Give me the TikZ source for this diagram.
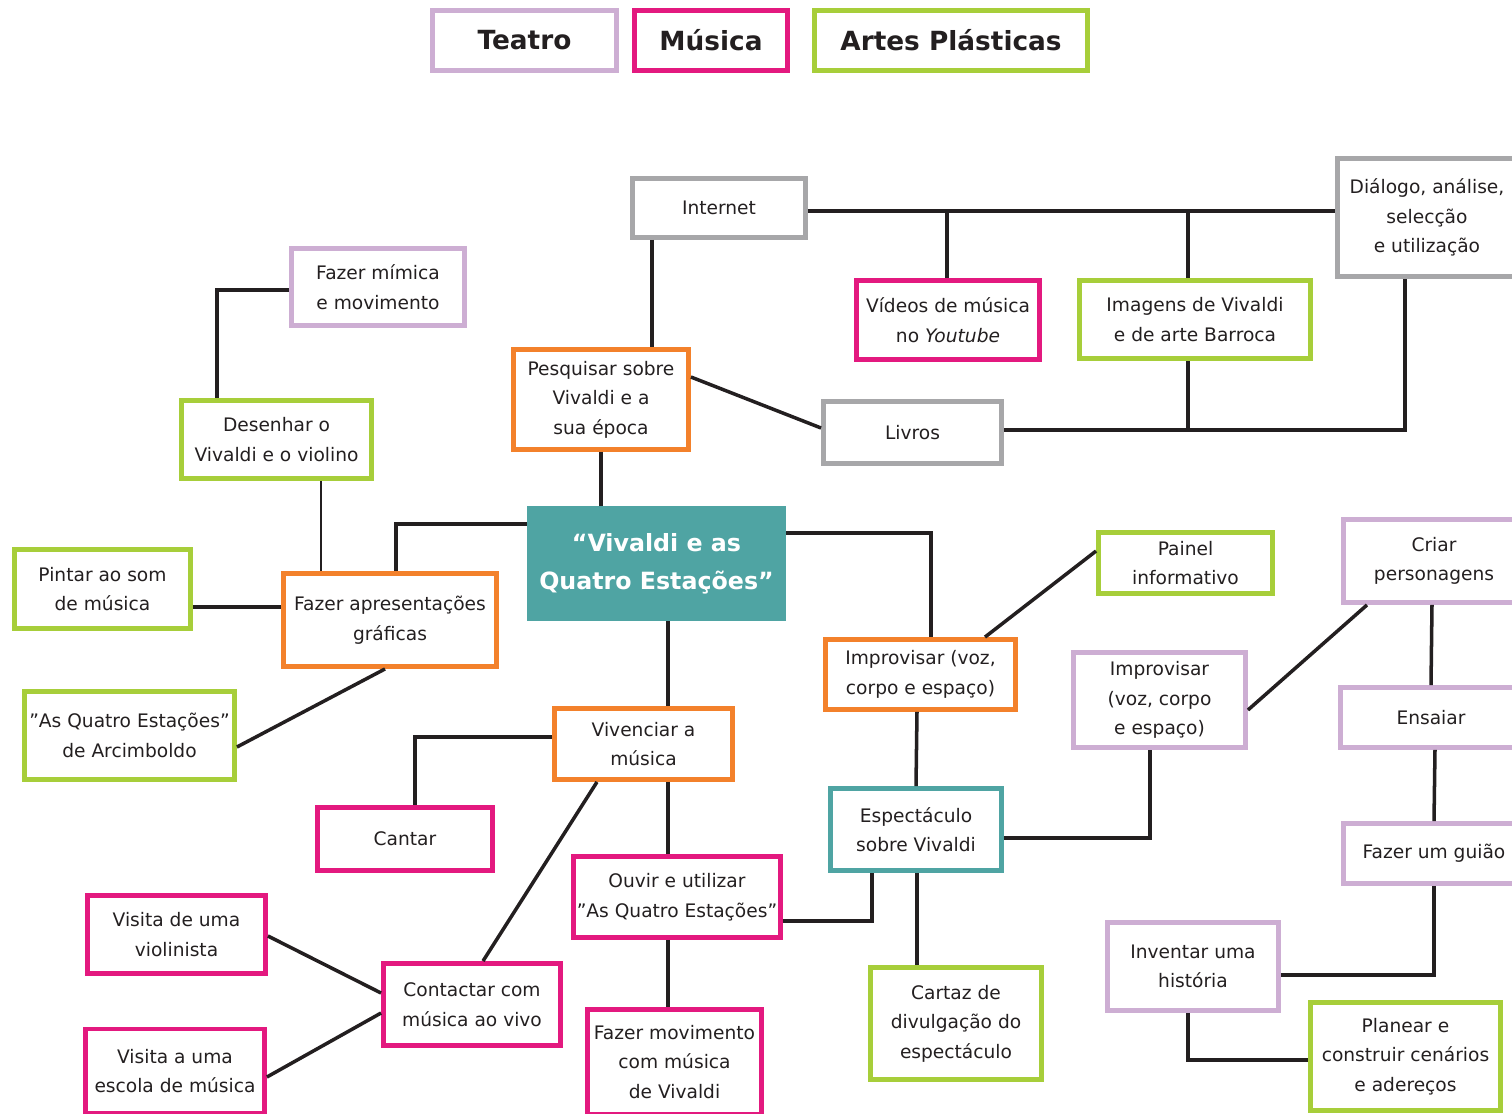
\documentclass[tikz,border=0pt]{standalone}
\usepackage{fontspec}
\setmainfont{DejaVu Sans}
\usepackage{xcolor}
\usepackage{tikz}
\usetikzlibrary{calc,positioning}

\definecolor{lilas}{HTML}{CDAED3}
\definecolor{magenta}{HTML}{E3197F}
\definecolor{verde}{HTML}{A7CE3A}
\definecolor{laranja}{HTML}{F3812B}
\definecolor{cinza}{HTML}{A7A7A9}
\definecolor{azul}{HTML}{4FA4A3}
\definecolor{traco}{HTML}{231F20}

\begin{document}
\begin{tikzpicture}[
        x=0.02cm, y=-0.02cm,
        caixa/.style={draw, line width=2.8pt, align=center, inner sep=0pt, text=traco, font=\fontsize{10.6}{16.8}\selectfont},
        teatro/.style={caixa, draw=lilas},
        musica/.style={caixa, draw=magenta},
        artes/.style={caixa, draw=verde},
        pesquisa/.style={caixa, draw=laranja},
        fonte/.style={caixa, draw=cinza},
        vivaldi/.style={caixa, draw=azul},
        legenda/.style={font=\fontsize{15}{19}\bfseries, minimum height=1.2cm},
        ligacao/.style={draw=traco, line width=2pt}
    ]
        \useasboundingbox (0,0) rectangle (1512,1113);
        \clip (0,0) rectangle (1512,1113);

        \node[teatro, legenda, minimum width=3.68cm] (lteatro) at (524.5,40.5) {Teatro};
        \node[musica, legenda, minimum width=3.06cm] (lmusica) at (711,40.5) {Música};
        \node[artes, legenda, minimum width=5.46cm] (lartes) at (951,40.5) {Artes Plásticas};

        \node[fill=azul, text=white, align=center, minimum width=5.18cm, minimum height=2.3cm, font=\fontsize{13.5}{21.5}\bfseries] (central) at (656.5,563.5) {“Vivaldi e as\\Quatro Estações”};

        \node[fonte, minimum width=3.46cm, minimum height=1.18cm] (internet) at (719,208) {Internet};
        \node[fonte, minimum width=3.58cm, minimum height=2.36cm] (dialogo) at (1427,217.5) {Diálogo, análise,\\selecção\\e utilização};
        \node[musica, minimum width=3.66cm, minimum height=1.58cm] (videos) at (948,320) {Vídeos de música\\no \textit{Youtube}};
        \node[artes, minimum width=4.62cm, minimum height=1.56cm] (imagens) at (1195,319.5) {Imagens de Vivaldi\\e de arte Barroca};
        \node[teatro, minimum width=3.46cm, minimum height=1.54cm] (mimica) at (378,287) {Fazer mímica\\e movimento};
        \node[pesquisa, minimum width=3.5cm, minimum height=2cm] (pesquisar) at (601,399.5) {Pesquisar sobre\\Vivaldi e a\\sua época};
        \node[fonte, minimum width=3.56cm, minimum height=1.24cm] (livros) at (912.5,432.5) {Livros};
        \node[artes, minimum width=3.8cm, minimum height=1.56cm] (desenhar) at (276.5,439.5) {Desenhar o\\Vivaldi e o violino};
        \node[artes, minimum width=3.48cm, minimum height=1.22cm] (painel) at (1185.5,563) {Painel\\informativo};
        \node[teatro, minimum width=3.62cm, minimum height=1.66cm] (criar) at (1434,561) {Criar\\personagens};
        \node[artes, minimum width=3.52cm, minimum height=1.58cm] (pintar) at (102.5,589) {Pintar ao som\\de música};
        \node[pesquisa, minimum width=4.26cm, minimum height=1.86cm] (apresent) at (390,620) {Fazer apresentações\\gráficas};
        \node[pesquisa, minimum width=3.8cm, minimum height=1.4cm] (improvA) at (920.5,674.5) {Improvisar (voz,\\corpo e espaço)};
        \node[teatro, minimum width=3.44cm, minimum height=1.9cm] (improvB) at (1159.5,700) {Improvisar\\(voz, corpo\\e espaço)};
        \node[teatro, minimum width=3.62cm, minimum height=1.2cm] (ensaiar) at (1431,717.5) {Ensaiar};
        \node[artes, minimum width=4.2cm, minimum height=1.76cm] (arcimboldo) at (129.5,735.5) {”As Quatro Estações”\\de Arcimboldo};
        \node[pesquisa, minimum width=3.56cm, minimum height=1.42cm] (vivenciar) at (643.5,744) {Vivenciar a\\música};
        \node[musica, minimum width=3.5cm, minimum height=1.26cm] (cantar) at (405,839) {Cantar};
        \node[vivaldi, minimum width=3.42cm, minimum height=1.64cm] (espectaculo) at (916,829.5) {Espectáculo\\sobre Vivaldi};
        \node[teatro, minimum width=3.62cm, minimum height=1.2cm] (guiao) at (1434,853.5) {Fazer um guião};
        \node[musica, minimum width=4.14cm, minimum height=1.62cm] (ouvir) at (677,897) {Ouvir e utilizar\\”As Quatro Estações”};
        \node[musica, minimum width=3.56cm, minimum height=1.56cm] (violinista) at (176.5,934.5) {Visita de uma\\violinista};
        \node[teatro, minimum width=3.42cm, minimum height=1.76cm] (inventar) at (1193,966.5) {Inventar uma\\história};
        \node[musica, minimum width=3.54cm, minimum height=1.64cm] (contactar) at (472,1004.5) {Contactar com\\música ao vivo};
        \node[artes, minimum width=3.42cm, minimum height=2.24cm] (cartaz) at (956,1023.5) {Cartaz de\\divulgação do\\espectáculo};
        \node[musica, minimum width=3.58cm, minimum height=1.68cm] (escola) at (175,1071) {Visita a uma\\escola de música};
        \node[musica, minimum width=3.48cm, minimum height=2.1cm] (movimento) at (674.5,1062) {Fazer movimento\\com música\\de Vivaldi};
        \node[artes, minimum width=3.8cm, minimum height=2.16cm] (planear) at (1405.5,1056.5) {Planear e\\construir cenários\\e adereços};

        \draw[ligacao] (internet.east |- 0,211) -- (dialogo.west |- 0,211);
        \draw[ligacao] (videos.north -| 947,0) -- (947,211);
        \draw[ligacao] (imagens.north -| 1188,0) -- (1188,211);
        \draw[ligacao] (internet.south -| 652,0) -- (pesquisar.north -| 652,0);
        \draw[ligacao] (pesquisar.east |- 0,377) -- (livros.west |- 0,428);
        \draw[ligacao] (livros.east |- 0,430) -| (dialogo.south -| 1405,0);
        \draw[ligacao] (imagens.south -| 1188,0) -- (1188,430);
        \draw[ligacao] (pesquisar.south) -- (central.north -| pesquisar.south);
        \draw[ligacao] (mimica.west |- 0,290) -| (desenhar.north -| 217,0);
        \draw[ligacao, line width=1.1pt] (desenhar.south -| 321,0) -- (apresent.north -| 321,0);
        \draw[ligacao] (central.west |- 0,524) -| (apresent.north -| 396,0);
        \draw[ligacao] (pintar.east |- 0,607) -- (apresent.west |- 0,607);
        \draw[ligacao] (apresent.south -| 385,0) -- (arcimboldo.east |- 0,747);
        \draw[ligacao] (central.east |- 0,533) -| (improvA.north -| 931,0);
        \draw[ligacao] (improvA.north -| 985,0) -- (painel.west |- 0,551);
        \draw[ligacao] (central.south -| 668,0) -- (vivenciar.north -| 668,0);
        \draw[ligacao] (vivenciar.west |- 0,737) -| (cantar.north -| 415,0);
        \draw[ligacao] (vivenciar.south -| 597,0) -- (contactar.north -| 483,0);
        \draw[ligacao] (vivenciar.south -| 668,0) -- (ouvir.north -| 668,0);
        \draw[ligacao] (ouvir.south -| 668,0) -- (movimento.north -| 668,0);
        \draw[ligacao] (ouvir.east |- 0,921) -| (espectaculo.south -| 872,0);
        \draw[ligacao] (improvA.south -| 917,0) -- (espectaculo.north -| 916,0);
        \draw[ligacao] (espectaculo.east |- 0,838) -| (improvB.south -| 1150,0);
        \draw[ligacao] (espectaculo.south -| 917,0) -- (cartaz.north -| 917,0);
        \draw[ligacao] (improvB.east |- 0,710) -- (criar.south -| 1367,0);
        \draw[ligacao] (criar.south -| 1432,0) -- (ensaiar.north -| 1431,0);
        \draw[ligacao] (ensaiar.south -| 1435,0) -- (guiao.north -| 1434,0);
        \draw[ligacao] (guiao.south -| 1434,0) |- (inventar.east |- 0,975);
        \draw[ligacao] (inventar.south -| 1188,0) |- (planear.west |- 0,1060);
        \draw[ligacao] (violinista.east |- 0,936) -- (contactar.west |- 0,993);
        \draw[ligacao] (escola.east |- 0,1077) -- (contactar.west |- 0,1013);
    \end{tikzpicture}
\end{document}
